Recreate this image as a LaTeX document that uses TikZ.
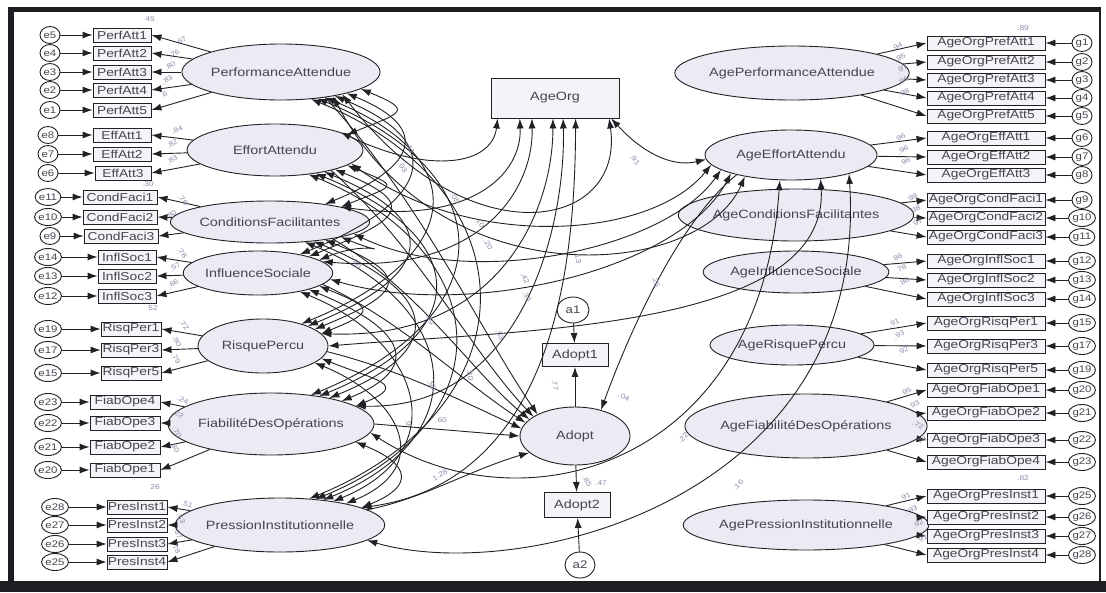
\documentclass[tikz,border=0pt]{standalone}
\usepackage{fontspec}
\newfontfamily\amos[FakeStretch=1.2]{Liberation Sans}
\usetikzlibrary{shapes.geometric,arrows.meta,calc}
\definecolor{linec}{HTML}{222226}
\definecolor{latfill}{HTML}{EBEBF3}
\definecolor{obsfill}{HTML}{F4F4F8}
\definecolor{txtc}{HTML}{45454F}
\definecolor{numc}{HTML}{8C8CAA}
\definecolor{framec}{HTML}{1E1E22}
\pgfdeclarelayer{bg}
\pgfsetlayers{bg,main}
\tikzset{
  lat/.style={ellipse, draw=linec, line width=0.9pt, fill=latfill, inner sep=0pt, text=txtc, font=\amos\fontsize{12}{14}\selectfont},
  obs/.style={rectangle, draw=linec, line width=0.9pt, fill=obsfill, inner sep=0pt, minimum height=14pt, text=txtc, font=\amos\fontsize{11.5}{13}\selectfont},
  err/.style={ellipse, draw=linec, line width=0.9pt, fill=white, minimum width=20pt, minimum height=17pt, inner sep=0pt, text=txtc, font=\amos\fontsize{9.5}{11}\selectfont},
  arr/.style={draw=linec, line width=0.9pt, -{Latex[length=10pt,width=7pt]}},
  cov/.style={draw=linec, line width=0.9pt, {Latex[length=10pt,width=7pt]}-{Latex[length=10pt,width=7pt]}},
  num/.style={text=numc, inner sep=0pt, font=\amos\fontsize{7}{8}\selectfont},
}
\begin{document}
\begin{tikzpicture}[x=1pt,y=-1pt]
\useasboundingbox (0,0) rectangle (1106,592);
\fill[white] (0,0) rectangle (1106,592);

% ---------- left latents
\node[lat, minimum width=188pt, minimum height=56pt] (L1) at (281,72) {PerformanceAttendue};
\node[lat, minimum width=176pt, minimum height=52pt] (L2) at (275,150) {EffortAttendu};
\node[lat, minimum width=166pt, minimum height=42pt] (L3) at (270,222) {ConditionsFacilitantes};
\node[lat, minimum width=124pt, minimum height=44pt] (L4) at (258,273) {InfluenceSociale};
\node[lat, minimum width=130pt, minimum height=54pt] (L5) at (263,346) {RisquePercu};
\node[lat, minimum width=158pt, minimum height=62pt] (L6) at (271,424) {FiabilitéDesOpérations};
\node[lat, minimum width=166pt, minimum height=54pt] (L7) at (280,525) {PressionInstitutionnelle};

% ---------- right latents
\node[lat, minimum width=180pt, minimum height=54pt] (R1) at (792,73) {AgePerformanceAttendue};
\node[lat, minimum width=172pt, minimum height=50pt] (R2) at (791,155) {AgeEffortAttendu};
\node[lat, minimum width=196pt, minimum height=52pt] (R3) at (796,215) {AgeConditionsFacilitantes};
\node[lat, minimum width=168pt, minimum height=42pt] (R4) at (796,272) {AgeInfluenceSociale};
\node[lat, minimum width=164pt, minimum height=40pt] (R5) at (792,345) {AgeRisquePercu};
\node[lat, minimum width=188pt, minimum height=64pt] (R6) at (806,426) {AgeFiabilitéDesOpérations};
\node[lat, minimum width=188pt, minimum height=50pt] (R7) at (806,525) {AgePressionInstitutionnelle};

% ---------- centre
\node[obs, minimum width=128pt, minimum height=40pt, font=\amos\fontsize{12}{14}\selectfont] (AO) at (555,98) {AgeOrg};
\node[lat, minimum width=110pt, minimum height=58pt] (AD) at (575,436) {Adopt};
\node[obs, minimum width=66pt, minimum height=23pt, font=\amos\fontsize{12}{14}\selectfont] (A1) at (575,355) {Adopt1};
\node[obs, minimum width=66pt, minimum height=25pt, font=\amos\fontsize{12}{14}\selectfont] (A2) at (577,505) {Adopt2};
\node[err, minimum width=32pt, minimum height=26pt, font=\amos\fontsize{11}{13}\selectfont] (ea1) at (573,310) {a1};
\node[err, minimum width=30pt, minimum height=26pt, font=\amos\fontsize{11}{13}\selectfont] (ea2) at (580,565) {a2};

\begin{pgfonlayer}{bg}
\draw[arr] ($(AO.south west)!0.72!(AO.south east)$) -- (AD.85);
\end{pgfonlayer}

% ---------- left indicators
\foreach \n/\lab/\cx/\w/\y/\e/\ex/\lat in {
 a1/PerfAtt1/122/58/35/e5/50/L1, a2/PerfAtt2/122/58/53/e4/50/L1, a3/PerfAtt3/122/58/72/e3/50/L1,
 a4/PerfAtt4/122/58/90/e2/50/L1, a5/PerfAtt5/122/58/110/e1/50/L1,
 b1/EffAtt1/122/58/135/e8/48/L2, b2/EffAtt2/122/58/154/e7/48/L2, b3/EffAtt3/123/56/173/e6/48/L2,
 c1/CondFaci1/120/74/197/e11/48/L3, c2/CondFaci2/120/74/217/e10/48/L3, c3/CondFaci3/121/74/236/e9/50/L3,
 d1/InflSoc1/127/58/257/e14/48/L4, d2/InflSoc2/127/58/276/e13/48/L4, d3/InflSoc3/127/58/296/e12/48/L4,
 f1/RisqPer1/131/60/329/e19/48/L5, f2/RisqPer3/131/60/350/e17/48/L5, f3/RisqPer5/131/60/373/e15/48/L5,
 h1/FiabOpe4/125/70/402/e23/48/L6, h2/FiabOpe3/125/70/423/e22/48/L6, h3/FiabOpe2/125/70/447/e21/48/L6,
 h4/FiabOpe1/125/70/470/e20/48/L6,
 k1/PresInst1/137/60/507/e28/55/L7, k2/PresInst2/137/60/525/e27/55/L7, k3/PresInst3/137/60/544/e26/55/L7,
 k4/PresInst4/137/60/562/e25/55/L7}
{
 \node[obs, minimum width=\w pt] (\n) at (\cx,\y) {\lab};
 \node[err] (E\n) at (\ex,\y) {\e};
 \draw[arr] (E\n) -- (\n);
 \draw[arr] (\lat) -- (\n.east);
}

% ---------- right indicators
\foreach \n/\lab/\y/\g/\lat in {
 r1/AgeOrgPrefAtt1/43/g1/R1, r2/AgeOrgPrefAtt2/62/g2/R1, r3/AgeOrgPrefAtt3/80/g3/R1,
 r4/AgeOrgPrefAtt4/98/g4/R1, r5/AgeOrgPrefAtt5/116/g5/R1,
 s1/AgeOrgEffAtt1/138/g6/R2, s2/AgeOrgEffAtt2/157/g7/R2, s3/AgeOrgEffAtt3/175/g8/R2,
 t1/AgeOrgCondFaci1/200/g9/R3, t2/AgeOrgCondFaci2/218/g10/R3, t3/AgeOrgCondFaci3/237/g11/R3,
 u1/AgeOrgInflSoc1/261/g12/R4, u2/AgeOrgInflSoc2/280/g13/R4, u3/AgeOrgInflSoc3/299/g14/R4,
 v1/AgeOrgRisqPer1/323/g15/R5, v2/AgeOrgRisqPer3/346/g17/R5, v3/AgeOrgRisqPer5/370/g19/R5,
 w1/AgeOrgFiabOpe1/390/g20/R6, w2/AgeOrgFiabOpe2/413/g21/R6, w3/AgeOrgFiabOpe3/440/g22/R6,
 w4/AgeOrgFiabOpe4/462/g23/R6,
 z1/AgeOrgPresInst1/496/g25/R7, z2/AgeOrgPresInst2/517/g26/R7, z3/AgeOrgPresInst3/536/g27/R7,
 z4/AgeOrgPresInst4/555/g28/R7}
{
 \node[obs, minimum width=118pt] (\n) at (986,\y) {\lab};
 \node[err] (G\n) at (1082,\y) {\g};
 \draw[arr] (G\n) -- (\n);
 \draw[arr] (\lat) -- (\n.west);
}

% ---------- adopt measurement
\draw[arr] (ea1) -- (A1);
\draw[arr] (AD) -- (A1);
\draw[arr] (AD) -- (A2);
\draw[arr] (ea2) -- (A2);

% ---------- covariances among left latents
\foreach \i/\j in {1/2,1/3,1/4,1/5,1/6,1/7,2/3,2/4,2/5,2/6,2/7,3/4,3/5,3/6,3/7,4/5,4/6,4/7,5/6,5/7,6/7}{
 \pgfmathtruncatemacro\gp{\j-\i}
 \pgfmathtruncatemacro\aa{-6-6*\gp}
 \pgfmathtruncatemacro\bb{6+6*\gp}
 \pgfmathtruncatemacro\dd{20+34*\gp}
 \pgfmathtruncatemacro\dy{8+14*\gp}
 \draw[cov] (L\i.\aa) .. controls +(\dd,\dy) and +(\dd,-\dy) .. (L\j.\bb);
}

% ---------- covariances with AgeOrg
\foreach \k/\f in {1/0.055,2/0.227,3/0.32,4/0.484,5/0.563,6/0.66,7/0.92}
  \coordinate (ao\k) at ($(AO.south west)!\f!(AO.south east)$);
\draw[cov] (L2.15) .. controls (430,175) and (492,165) .. (ao1);
\draw[cov] (L3.12) .. controls (470,225) and (522,175) .. (ao2);
\draw[cov] (L4.10) .. controls (480,275) and (534,190) .. (ao3);
\draw[cov] (L5.12) .. controls (500,340) and (553,210) .. (ao4);
\draw[cov] (L6.12) .. controls (520,410) and (566,230) .. (ao5);
\draw[cov] (L7.12) .. controls (560,480) and (575,250) .. (ao6);
\draw[cov] (L1.-20) .. controls (470,260) and (625,230) .. (ao7);

% ---------- paths to Adopt
\draw[arr] (L1.-30) .. controls (420,200) and (480,330) .. (AD.150);
\draw[arr] (L2.-20) .. controls (420,250) and (470,350) .. (AD.155);
\draw[arr] (L3.-15) .. controls (420,290) and (470,370) .. (AD.160);
\draw[arr] (L4.-10) .. controls (400,320) and (460,380) .. (AD.165);
\draw[arr] (L5.-5) .. controls (400,370) and (460,400) .. (AD.172);
\draw[arr] (L6.0) -- (AD.180);
\draw[arr] (L7.10) .. controls (420,500) and (470,470) .. (AD.200);

% ---------- covariances with AgeEffortAttendu
\draw[cov] (AO.-20) .. controls (640,150) and (670,168) .. (R2.183);
\draw[cov] (L2.-10) .. controls (470,250) and (650,240) .. (R2.187);
\draw[cov] (L3.-8) .. controls (470,290) and (665,250) .. (R2.192);
\draw[cov] (L4.-5) .. controls (470,320) and (680,270) .. (R2.197);
\draw[cov] (L1.-25) .. controls (440,300) and (700,280) .. (R2.205);
\draw[cov] (L6.-5) .. controls (520,530) and (760,470) .. (R2.246);
\draw[cov] (L5.0) .. controls (520,330) and (830,330) .. (R2.-39);
\draw[cov] (L7.-10) .. controls (520,585) and (870,500) .. (R2.-18);
\draw[arr] (R2.200) .. controls (680,220) and (630,330) .. (AD.45);

% ---------- numbers
\node[num] at (150,19) {45};
\node[num, rotate=35] at (181,41) {.67};
\node[num, rotate=35] at (174,54) {.76};
\node[num, rotate=35] at (170,66) {.80};
\node[num, rotate=35] at (167,80) {.83};
\node[num, rotate=35] at (164,95) {.6};
\node[num, rotate=20] at (177,130) {.84};
\node[num, rotate=35] at (172,144) {.82};
\node[num, rotate=35] at (172,160) {.83};
\node[num] at (148,184) {.30};
\node[num, rotate=-50] at (183,200) {.76};
\node[num, rotate=35] at (171,215) {.80};
\node[num, rotate=-50] at (182,253) {.78};
\node[num, rotate=35] at (175,267) {.57};
\node[num, rotate=35] at (173,284) {.66};
\node[num] at (153,308) {52};
\node[num, rotate=-50] at (184,325) {.72};
\node[num, rotate=-60] at (177,341) {.80};
\node[num, rotate=-60] at (176,358) {.79};
\node[num, rotate=-30] at (183,400) {.24};
\node[num, rotate=-30] at (178,414) {.22};
\node[num, rotate=-60] at (177,432) {.70};
\node[num, rotate=-60] at (175,447) {.80};
\node[num] at (155,487) {26};
\node[num, rotate=-20] at (187,504) {.51};
\node[num, rotate=-60] at (181,518) {.53};
\node[num, rotate=-60] at (178,533) {.67};
\node[num, rotate=-60] at (176,548) {.78};
\node[num] at (1023,28) {.89};
\node[num, rotate=30] at (897,47) {.94};
\node[num, rotate=30] at (900,58) {.95};
\node[num, rotate=30] at (902,69) {.97};
\node[num, rotate=30] at (903,81) {.96};
\node[num, rotate=30] at (904,93) {.98};
\node[num, rotate=30] at (900,138) {.96};
\node[num, rotate=30] at (903,150) {.96};
\node[num, rotate=30] at (905,162) {.96};
\node[num, rotate=30] at (912,198) {.98};
\node[num, rotate=30] at (915,210) {.98};
\node[num, rotate=30] at (917,223) {.97};
\node[num, rotate=30] at (897,258) {.86};
\node[num, rotate=30] at (901,269) {.78};
\node[num, rotate=30] at (904,282) {.86};
\node[num, rotate=30] at (894,323) {.91};
\node[num, rotate=30] at (899,335) {.93};
\node[num, rotate=30] at (903,351) {.92};
\node[num, rotate=30] at (906,392) {.95};
\node[num, rotate=30] at (914,405) {.93};
\node[num, rotate=-30] at (918,425) {.72};
\node[num, rotate=30] at (921,441) {.78};
\node[num] at (1023,478) {.82};
\node[num, rotate=30] at (905,497) {.91};
\node[num, rotate=30] at (912,510) {.93};
\node[num, rotate=30] at (918,524) {.92};
\node[num, rotate=30] at (922,539) {.91};
\node[num, rotate=-60] at (410,148) {.41};
\node[num, rotate=-60] at (402,166) {-.03};
\node[num, rotate=-60] at (455,198) {.05};
\node[num, rotate=-60] at (480,222) {.10};
\node[num, rotate=-60] at (488,244) {.20};
\node[num, rotate=-80] at (578,258) {.13};
\node[num, rotate=-50] at (635,160) {.91};
\node[num, rotate=-70] at (656,282) {.26};
\node[num, rotate=-60] at (525,278) {.42};
\node[num, rotate=-60] at (527,296) {.36};
\node[num, rotate=-60] at (356,262) {-.20};
\node[num, rotate=-70] at (430,320) {.49};
\node[num, rotate=-70] at (500,335) {.53};
\node[num, rotate=-80] at (470,375) {.30};
\node[num, rotate=-60] at (432,385) {.58};
\node[num] at (441,420) {.60};
\node[num, rotate=-70] at (408,423) {.9};
\node[num, rotate=30] at (440,475) {1.28};
\node[num, rotate=-80] at (555,385) {.77};
\node[num] at (601,483) {.47};
\node[num, rotate=-60] at (587,481) {.85};
\node[num, rotate=45] at (683,438) {.22};
\node[num, rotate=45] at (738,485) {.16};
\node[num, rotate=-30] at (624,397) {.04};

% ---------- frame
\fill[framec] (8,7) rectangle (1101,12);
\fill[framec] (8,7) rectangle (14,585);
\fill[framec] (0,581) rectangle (1106,592);
\draw[framec, line width=1.5pt] (1100,8) -- (1100,582);
\end{tikzpicture}
\end{document}
